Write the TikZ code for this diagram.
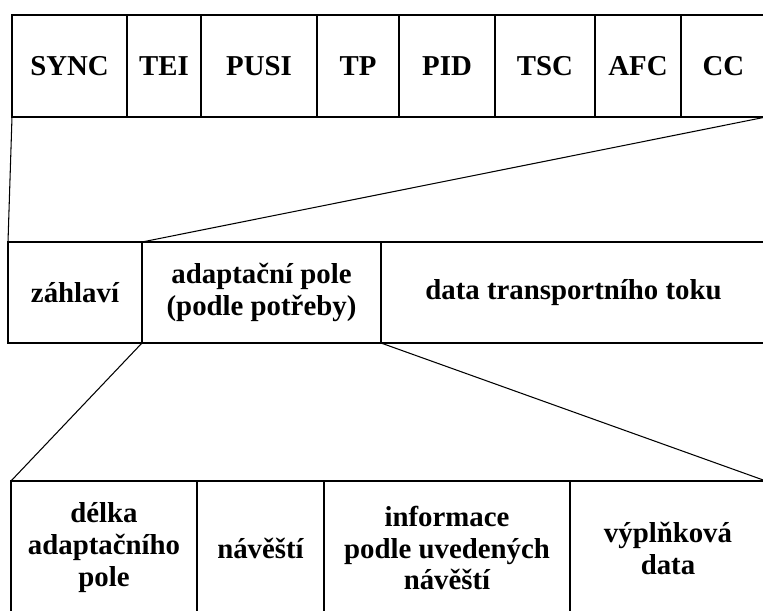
\documentclass[tikz,border=0pt]{standalone}
\usepackage{fontspec}
\setmainfont{Liberation Serif}
\usepackage{tikz}
\usetikzlibrary{positioning}

\begin{document}
\begin{tikzpicture}[
    field/.style={draw, line width=1.7pt, outer sep=0pt, align=center, font=\bfseries\fontsize{16.4}{18.2}\selectfont},
    link/.style={line width=0.6pt}
  ]
    \useasboundingbox (0,0) rectangle (15.26,12.2);
    \clip (0,0) rectangle (15.26,12.2);
    % header fields
    \node[field, minimum width=2.30cm, minimum height=2.04cm] (sync) at (1.39,10.88) {SYNC};
    \node[field, minimum width=1.48cm, minimum height=2.04cm] (tei) at (3.28,10.88) {TEI};
    \node[field, minimum width=2.32cm, minimum height=2.04cm] (pusi) at (5.18,10.88) {PUSI};
    \node[field, minimum width=1.64cm, minimum height=2.04cm] (tp) at (7.16,10.88) {TP};
    \node[field, minimum width=1.92cm, minimum height=2.04cm] (pid) at (8.94,10.88) {PID};
    \node[field, minimum width=2.00cm, minimum height=2.04cm] (tsc) at (10.90,10.88) {TSC};
    \node[field, minimum width=1.72cm, minimum height=2.04cm] (afc) at (12.76,10.88) {AFC};
    \node[field, minimum width=1.70cm, minimum height=2.04cm] (cc) at (14.47,10.88) {CC};
    % packet
    \node[field, minimum width=2.68cm, minimum height=2.02cm] (zahlavi) at (1.50,6.35) {záhlaví};
    \node[field, minimum width=4.78cm, minimum height=2.02cm] (adapt) at (5.23,6.35) {adaptační pole\\(podle potřeby)};
    \node[field, minimum width=7.70cm, minimum height=2.02cm] (tok) at (11.47,6.35) {data transportního toku};
    % adaptation field
    \node[field, minimum width=3.72cm, minimum height=2.68cm] (delka) at (2.08,1.24) {délka\\adaptačního\\pole};
    \node[field, minimum width=2.54cm, minimum height=2.68cm] (navesti) at (5.21,1.24) {návěští};
    \node[field, minimum width=4.92cm, minimum height=2.68cm] (info) at (8.94,1.24) {informace\\podle uvedených\\návěští};
    \node[field, minimum width=3.92cm, minimum height=2.68cm] (vypln) at (13.36,1.24) {výplňková\\data};
    \draw[link] (sync.south west) -- (zahlavi.north west);
    \draw[link] (cc.south east) -- (adapt.north west);
    \draw[link] (adapt.south west) -- (delka.north west);
    \draw[link] (adapt.south east) -- (vypln.north east);
\end{tikzpicture}
\end{document}
